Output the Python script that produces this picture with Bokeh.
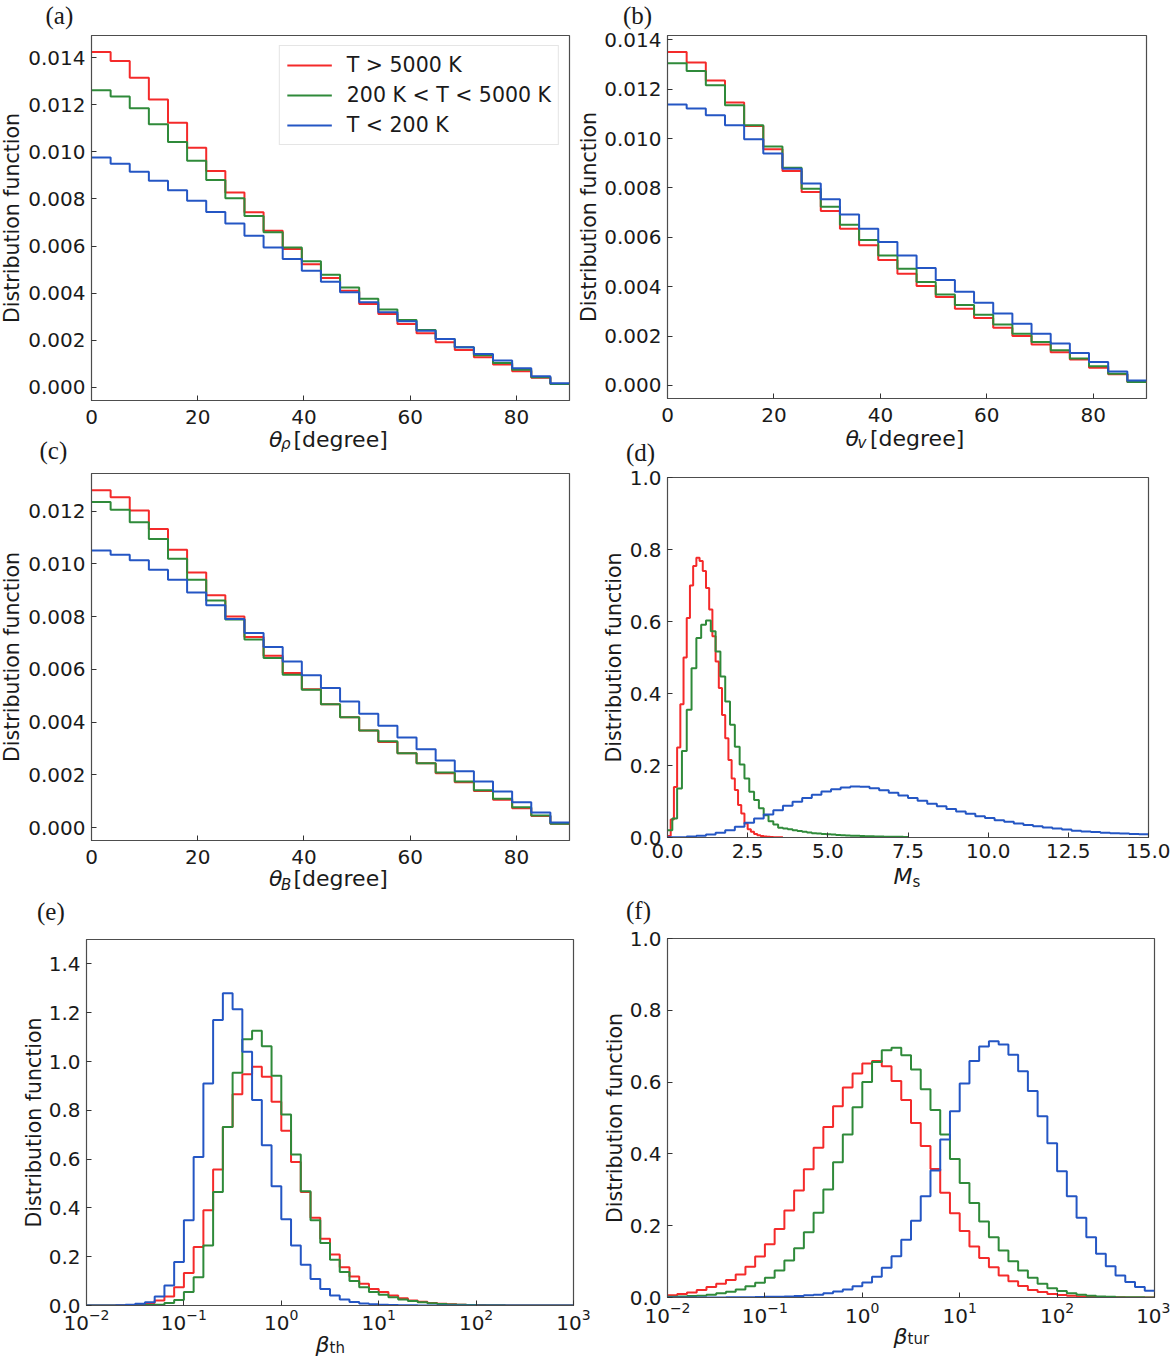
import numpy as np
from bokeh.plotting import figure
from bokeh.layouts import column, row
from bokeh.models import Range1d, FixedTicker, PrintfTickFormatter, LogTickFormatter, Label
from bokeh.embed import file_html
from bokeh.resources import INLINE

series_names = ["T > 5000 K", "200 K < T < 5000 K", "T < 200 K"]
series_colors = ["#f42a2a", "#2f8a3a", "#2456c4"]

# (a) theta_rho, 25 bins over 0-90 degree
theta_rho_hot = [0.01424, 0.01386, 0.01315, 0.01223, 0.01124, 0.01018, 0.00919, 0.00827, 0.00743, 0.00665,
                 0.00587, 0.00523, 0.00464, 0.00410, 0.00354, 0.00311, 0.00269, 0.00229, 0.00191, 0.00158,
                 0.00127, 0.00096, 0.00068, 0.00040, 0.00014]
theta_rho_warm = [0.01262, 0.01235, 0.01185, 0.01117, 0.01042, 0.00962, 0.00881, 0.00803, 0.00728, 0.00658,
                  0.00594, 0.00535, 0.00478, 0.00424, 0.00376, 0.00330, 0.00286, 0.00243, 0.00205, 0.00170,
                  0.00136, 0.00103, 0.00074, 0.00042, 0.00014]
theta_rho_cold = [0.00976, 0.00950, 0.00915, 0.00877, 0.00837, 0.00792, 0.00744, 0.00696, 0.00644, 0.00594,
                  0.00545, 0.00495, 0.00448, 0.00403, 0.00361, 0.00318, 0.00280, 0.00240, 0.00205, 0.00170,
                  0.00141, 0.00113, 0.00081, 0.00047, 0.00017]

# (b) theta_v
theta_v_hot = [0.01351, 0.01308, 0.01236, 0.01146, 0.01051, 0.00957, 0.00869, 0.00784, 0.00707, 0.00635,
               0.00568, 0.00508, 0.00453, 0.00403, 0.00358, 0.00311, 0.00273, 0.00234, 0.00200, 0.00166,
               0.00135, 0.00105, 0.00072, 0.00045, 0.00014]
theta_v_warm = [0.01305, 0.01274, 0.01216, 0.01135, 0.01054, 0.00968, 0.00882, 0.00797, 0.00724, 0.00651,
                0.00589, 0.00527, 0.00473, 0.00419, 0.00369, 0.00326, 0.00286, 0.00247, 0.00209, 0.00176,
                0.00143, 0.00109, 0.00078, 0.00047, 0.00014]
theta_v_cold = [0.01138, 0.01122, 0.01095, 0.01054, 0.00997, 0.00940, 0.00878, 0.00818, 0.00754, 0.00693,
                0.00635, 0.00581, 0.00527, 0.00476, 0.00427, 0.00380, 0.00335, 0.00292, 0.00250, 0.00209,
                0.00170, 0.00132, 0.00095, 0.00057, 0.00020]

# (c) theta_B
theta_b_hot = [0.01280, 0.01253, 0.01203, 0.01133, 0.01054, 0.00968, 0.00881, 0.00801, 0.00723, 0.00652,
               0.00586, 0.00525, 0.00468, 0.00418, 0.00368, 0.00324, 0.00282, 0.00244, 0.00206, 0.00172,
               0.00139, 0.00105, 0.00073, 0.00044, 0.00014]
theta_b_warm = [0.01235, 0.01206, 0.01158, 0.01095, 0.01020, 0.00940, 0.00861, 0.00789, 0.00713, 0.00643,
                0.00580, 0.00523, 0.00468, 0.00418, 0.00368, 0.00327, 0.00282, 0.00244, 0.00209, 0.00175,
                0.00141, 0.00109, 0.00077, 0.00046, 0.00014]
theta_b_cold = [0.01051, 0.01035, 0.01014, 0.00978, 0.00940, 0.00892, 0.00843, 0.00791, 0.00738, 0.00685,
                0.00630, 0.00578, 0.00529, 0.00478, 0.00432, 0.00386, 0.00342, 0.00297, 0.00254, 0.00213,
                0.00175, 0.00137, 0.00096, 0.00057, 0.00019]

# (d) sonic Mach number; bin widths 0.1 / 0.15 / 0.3
mach_hot = [0.004, 0.050, 0.140, 0.250, 0.370, 0.500, 0.610, 0.700, 0.754, 0.777,
            0.768, 0.740, 0.693, 0.633, 0.559, 0.489, 0.415, 0.340, 0.276, 0.215,
            0.164, 0.132, 0.090, 0.067, 0.039, 0.023, 0.016, 0.010, 0.0065, 0.004,
            0.003, 0.002, 0.0015, 0.001, 0.0007, 0.0005]
mach_warm = [0.020, 0.053, 0.136, 0.240, 0.355, 0.470, 0.554, 0.591, 0.603, 0.573,
             0.517, 0.447, 0.378, 0.313, 0.252, 0.203, 0.164, 0.127, 0.104, 0.081,
             0.062, 0.045, 0.036, 0.027, 0.025, 0.023, 0.020, 0.018, 0.016, 0.014,
             0.012, 0.011, 0.0095, 0.009, 0.008, 0.0072, 0.0065, 0.0058, 0.0052, 0.0046,
             0.0042, 0.0038, 0.0034, 0.0030, 0.0027, 0.0024, 0.0021, 0.0020, 0.0018, 0.0016]
mach_cold = [0.001, 0.001, 0.003, 0.005, 0.008, 0.013, 0.020, 0.030, 0.041, 0.053,
             0.064, 0.076, 0.088, 0.099, 0.110, 0.119, 0.128, 0.134, 0.139, 0.142,
             0.141, 0.137, 0.131, 0.124, 0.117, 0.110, 0.102, 0.094, 0.087, 0.079,
             0.072, 0.066, 0.059, 0.054, 0.048, 0.044, 0.039, 0.035, 0.031, 0.028,
             0.025, 0.022, 0.019, 0.017, 0.015, 0.013, 0.012, 0.011, 0.010, 0.009]
mach_bin_width = [0.1, 0.15, 0.3]

# (e) beta_th, 10 log bins per decade from 1e-2 to 1e3
beta_th_hot = [0, 0, 0, 0.001, 0.002, 0.005, 0.010, 0.020, 0.037, 0.075,
               0.133, 0.240, 0.390, 0.557, 0.732, 0.866, 0.948, 0.978, 0.937, 0.835,
               0.716, 0.588, 0.465, 0.360, 0.274, 0.209, 0.157, 0.119, 0.089, 0.068,
               0.055, 0.041, 0.030, 0.021, 0.015, 0.010, 0.007, 0.005, 0.0035, 0.0025,
               0.0018, 0.0012, 0.0008, 0.0005, 0.0003, 0.0002, 0.0001, 0.0001, 0, 0]
beta_th_warm = [0, 0, 0, 0, 0, 0.001, 0.002, 0.003, 0.010, 0.023,
                0.055, 0.116, 0.246, 0.465, 0.732, 0.954, 1.091, 1.126, 1.063, 0.942,
                0.783, 0.619, 0.468, 0.349, 0.256, 0.187, 0.137, 0.100, 0.075, 0.055,
                0.044, 0.034, 0.025, 0.018, 0.013, 0.009, 0.006, 0.004, 0.003, 0.002,
                0.0015, 0.001, 0.0007, 0.0005, 0.0003, 0.0002, 0.0001, 0, 0, 0]
beta_th_cold = [0, 0, 0, 0.001, 0.003, 0.007, 0.013, 0.037, 0.082, 0.178,
                0.349, 0.609, 0.910, 1.170, 1.280, 1.214, 1.040, 0.842, 0.657, 0.489,
                0.353, 0.246, 0.167, 0.109, 0.068, 0.041, 0.025, 0.014, 0.008, 0.005,
                0.003, 0.002, 0.001, 0.001, 0.0005, 0.0003, 0.0002, 0.0001, 0, 0,
                0, 0, 0, 0, 0, 0, 0, 0, 0, 0]

# (f) beta_tur
beta_tur_hot = [0.006, 0.010, 0.014, 0.021, 0.029, 0.038, 0.049, 0.064, 0.086, 0.114,
                0.148, 0.191, 0.242, 0.298, 0.357, 0.417, 0.475, 0.533, 0.585, 0.624,
                0.652, 0.659, 0.644, 0.603, 0.550, 0.486, 0.422, 0.358, 0.292, 0.235,
                0.185, 0.142, 0.110, 0.084, 0.061, 0.045, 0.032, 0.021, 0.015, 0.010,
                0.007, 0.005, 0.003, 0.002, 0.001, 0.0007, 0.0005, 0.0003, 0.0002, 0.0001]
beta_tur_warm = [0.002, 0.003, 0.004, 0.005, 0.008, 0.012, 0.016, 0.022, 0.031, 0.041,
                 0.055, 0.075, 0.103, 0.137, 0.182, 0.236, 0.301, 0.377, 0.454, 0.530,
                 0.600, 0.656, 0.689, 0.696, 0.675, 0.635, 0.580, 0.522, 0.454, 0.386,
                 0.319, 0.263, 0.212, 0.168, 0.131, 0.101, 0.075, 0.055, 0.038, 0.026,
                 0.018, 0.012, 0.008, 0.005, 0.003, 0.002, 0.001, 0.001, 0.0005, 0.0003]
beta_tur_cold = [0, 0, 0, 0, 0, 0.0003, 0.0005, 0.0008, 0.001, 0.0015,
                 0.002, 0.002, 0.003, 0.004, 0.006, 0.008, 0.012, 0.017, 0.022, 0.031,
                 0.042, 0.058, 0.083, 0.115, 0.161, 0.214, 0.282, 0.354, 0.440, 0.519,
                 0.596, 0.659, 0.699, 0.714, 0.705, 0.676, 0.630, 0.575, 0.505, 0.430,
                 0.352, 0.282, 0.222, 0.168, 0.122, 0.087, 0.061, 0.043, 0.029, 0.019]

angle_ticks = [0, 20, 40, 60, 80]
angle_yticks = [0.000, 0.002, 0.004, 0.006, 0.008, 0.010, 0.012, 0.014]
mach_ticks = [0.0, 2.5, 5.0, 7.5, 10.0, 12.5, 15.0]
beta_ticks = [1e-2, 1e-1, 1e0, 1e1, 1e2, 1e3]
unit_yticks = [0.0, 0.2, 0.4, 0.6, 0.8, 1.0]
beta_th_yticks = [0.0, 0.2, 0.4, 0.6, 0.8, 1.0, 1.2, 1.4]

TXT = "#1a1a1a"
EDGE = "#4d4d4d"
FONT = "DejaVu Sans"


def panel(size, borders, x_range, y_range, x_type="linear", x_standoff=9):
    # the canvases overlap their neighbours, so the border is see-through;
    # plots in one row share their top and bottom border sizes
    left, right, top, bottom = borders
    fw, fh = size
    p = figure(width=left + fw + right, height=top + fh + bottom,
               x_range=x_range, y_range=y_range, x_axis_type=x_type,
               output_backend="svg", toolbar_location=None,
               min_border_left=left, min_border_right=right,
               min_border_top=top, min_border_bottom=bottom)
    p.border_fill_alpha = 0
    p.xgrid.grid_line_color = None
    p.ygrid.grid_line_color = None
    p.outline_line_color = EDGE
    p.outline_line_width = 1.2
    p.outline_line_alpha = 1
    for ax in (p.xaxis[0], p.yaxis[0]):
        ax.major_tick_in = 5
        ax.major_tick_out = 0
        ax.minor_tick_in = 0
        ax.minor_tick_out = 0
        ax.axis_line_color = EDGE
        ax.major_tick_line_color = "#333333"
        ax.major_label_text_font = FONT
        ax.major_label_text_font_size = "20px"
        ax.major_label_text_color = TXT
    p.xaxis.major_label_standoff = x_standoff
    p.yaxis.major_label_standoff = 6
    return p


def put(p, side, dx, dy, text, size="22px", style="normal", font=FONT, angle=0.0, align="left"):
    # anchored at the lower-left corner of the frame, shifted by dx, dy pixels
    p.add_layout(Label(x=p.x_range.start, y=p.y_range.start, x_offset=dx, y_offset=dy,
                       text=text, text_font=font, text_font_size=size, text_font_style=style,
                       text_color=TXT, text_align=align, text_baseline="middle",
                       angle=angle), side)


def decorate(p, side, tag, tag_xy, ylab_xy, pieces):
    put(p, side, tag_xy[0], tag_xy[1], tag, size="25px", font="Liberation Serif")
    put(p, side, ylab_xy[0], ylab_xy[1], "Distribution function", size="20.5px",
        angle=np.pi / 2, align="center")
    for text, dx, dy, size, style in pieces:
        put(p, side, dx, dy, text, size=size, style=style)


def draw(p, edges, series, legend=False):
    for e, vals, name, color in zip(edges, series, series_names, series_colors):
        y = list(vals) + [vals[-1]]
        if legend:
            p.step(e, y, mode="after", line_color=color, line_width=2, legend_label=name)
        else:
            p.step(e, y, mode="after", line_color=color, line_width=2)


def padded(series):
    lo = min(min(s) for s in series)
    hi = max(max(s) for s in series)
    pad = 0.05 * (hi - lo)
    return Range1d(lo - pad, hi + pad)


def angle_panel(size, borders, series, legend=False):
    p = panel(size, borders, Range1d(0, 90), padded(series))
    edges = np.linspace(0, 90, len(series[0]) + 1)
    draw(p, [edges] * 3, series, legend)
    p.xaxis.ticker = FixedTicker(ticks=angle_ticks)
    p.xaxis.formatter = PrintfTickFormatter(format="%d")
    p.yaxis.ticker = FixedTicker(ticks=angle_yticks)
    p.yaxis.formatter = PrintfTickFormatter(format="%.3f")
    return p


def theta_label(fw, sub, dy, sub_dy):
    x0 = fw / 2 - 61.5
    return [("θ", x0, dy, "22px", "italic"),
            (sub, x0 + 12, sub_dy, "15px", "italic"),
            ("[degree]", x0 + 24.5, dy, "22px", "normal")]


def main():
    # left column draws its texts in the right-hand side panel, right column in the left one
    pa = angle_panel((478, 365), (91, 420, 35, 60),
                     [theta_rho_hot, theta_rho_warm, theta_rho_cold], legend=True)
    decorate(pa, "right", "(a)", (-46, 385.5), (-79.5, 182.5), theta_label(478, "ρ", -39, -43))
    pa.legend.location = "top_right"
    pa.legend.margin = 10
    pa.legend.padding = 7
    pa.legend.spacing = 6
    pa.legend.glyph_width = 45
    pa.legend.glyph_height = 24
    pa.legend.label_height = 24
    pa.legend.label_standoff = 15
    pa.legend.label_text_font = FONT
    pa.legend.label_text_font_size = "20.5px"
    pa.legend.label_text_color = TXT
    pa.legend.border_line_color = "#cccccc"
    pa.legend.background_fill_alpha = 0.85

    pb = angle_panel((479, 363), (450, 24, 35, 60), [theta_v_hot, theta_v_warm, theta_v_cold])
    decorate(pb, "left", "(b)", (-44.5, 383.5), (-78.4, 181.5), theta_label(479, "v", -39.5, -44.5))

    pc = angle_panel((478, 367), (91, 420, 40, 60), [theta_b_hot, theta_b_warm, theta_b_cold])
    decorate(pc, "right", "(c)", (-52, 389.7), (-79.5, 183.5), theta_label(478, "B", -38.3, -44.5))

    # (d) Mach number
    pd = panel((481, 360), (450, 22, 40, 60), Range1d(0, 15), Range1d(0, 1), x_standoff=6)
    mach = [mach_hot, mach_warm, mach_cold]
    mach_edges = [np.linspace(0, w * len(s), len(s) + 1) for w, s in zip(mach_bin_width, mach)]
    draw(pd, mach_edges, mach)
    pd.xaxis.ticker = FixedTicker(ticks=mach_ticks)
    pd.xaxis.formatter = PrintfTickFormatter(format="%.1f")
    pd.yaxis.ticker = FixedTicker(ticks=unit_yticks)
    pd.yaxis.formatter = PrintfTickFormatter(format="%.1f")
    decorate(pd, "left", "(d)", (-41.5, 385.5), (-53.8, 180),
             [("M", 226, -39, "22px", "italic"), ("s", 245, -44.5, "15px", "normal")])

    # (e) beta_th
    log_edges = np.logspace(-2, 3, 51)
    pe = panel((487, 366), (86, 420, 51, 52), Range1d(1e-2, 1e3), Range1d(0, 1.5),
               x_type="log", x_standoff=3)
    draw(pe, [log_edges] * 3, [beta_th_hot, beta_th_warm, beta_th_cold])
    pe.xaxis.ticker = FixedTicker(ticks=beta_ticks)
    pe.xaxis.formatter = LogTickFormatter()
    pe.yaxis.ticker = FixedTicker(ticks=beta_th_yticks)
    pe.yaxis.formatter = PrintfTickFormatter(format="%.1f")
    decorate(pe, "right", "(e)", (-49.5, 394.5), (-52.4, 183),
             [("β", 229, -38.5, "22px", "italic"), ("th", 243, -42.5, "15px", "normal")])

    # (f) beta_tur
    pf = panel((487, 359), (450, 16, 51, 52), Range1d(1e-2, 1e3), Range1d(0, 1),
               x_type="log", x_standoff=4)
    draw(pf, [log_edges] * 3, [beta_tur_hot, beta_tur_warm, beta_tur_cold])
    pf.xaxis.ticker = FixedTicker(ticks=beta_ticks)
    pf.xaxis.formatter = LogTickFormatter()
    pf.yaxis.ticker = FixedTicker(ticks=unit_yticks)
    pf.yaxis.formatter = PrintfTickFormatter(format="%.1f")
    decorate(pf, "left", "(f)", (-41.5, 387.5), (-52.5, 179.5),
             [("β", 226, -38.5, "22px", "italic"), ("tur", 240, -41.5, "15px", "normal")])

    # shift the right column and the lower rows back so that frames sit where they belong
    pb.margin = (0, 0, 0, 667 - 450 - (91 + 478 + 420))
    pd.margin = (4, 0, 0, 667 - 450 - (91 + 478 + 420))
    pe.margin = (1, 0, 0, 0)
    pf.margin = (0, 0, 0, 667 - 450 - (86 + 487 + 420))
    layout = column(row(pa, pb),
                    row(pc, pd, margin=(-27, 0, 0, 0)),
                    row(pe, pf, margin=(-13, 0, 0, 0)))
    with open("out.html", "w") as f:
        f.write(file_html(layout, INLINE, "Distribution functions"))


if __name__ == '__main__':
    main()
